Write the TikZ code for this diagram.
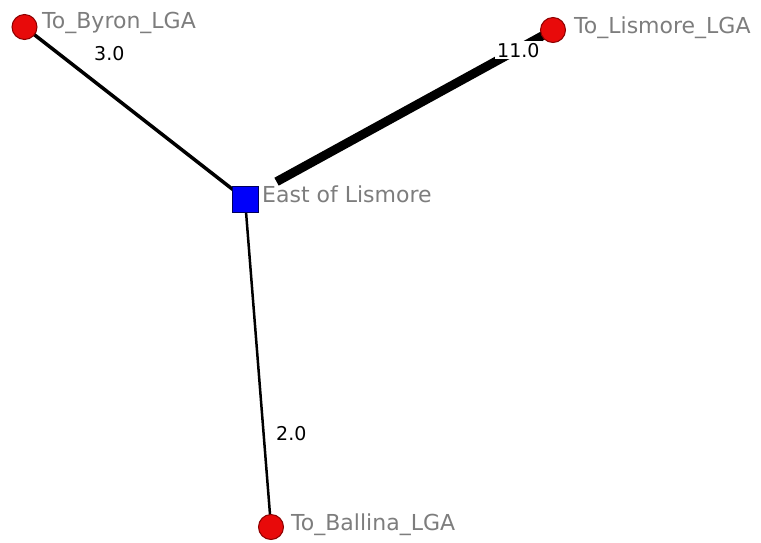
\documentclass[tikz,border=0pt]{standalone}
\usepackage{fontspec}
\setmainfont{DejaVu Sans}
\definecolor{nodered}{RGB}{232,10,10}
\definecolor{nodereddark}{RGB}{140,0,0}
\definecolor{nodeblue}{RGB}{0,0,250}
\definecolor{nodebluedark}{RGB}{0,0,90}
\definecolor{namegray}{RGB}{125,125,125}
\tikzset{
  place/.style={circle,fill=nodered,draw=nodereddark,line width=1pt,minimum size=25pt,inner sep=0pt},
  hub/.style={rectangle,fill=nodeblue,draw=nodebluedark,line width=1pt,minimum width=26pt,minimum height=26pt,inner sep=0pt},
  namelabel/.style={anchor=base west,inner sep=0pt,text=namegray,font=\fontsize{22}{24}\selectfont},
  weightlabel/.style={anchor=base west,inner sep=0pt,text=black,font=\fontsize{19}{21}\selectfont},
  link/.style={draw=black}
}
\begin{document}
\begin{tikzpicture}[x=1pt,y=-1pt]
\useasboundingbox (0,0) rectangle (761,542);
% node positions
\coordinate (cE) at (245,199);
\coordinate (cB) at (24.5,27);
\coordinate (cL) at (553,30);
\coordinate (cA) at (271,527);
% edges
\draw[link,line width=3.5pt] (cE) -- (cB);
\draw[link,line width=2.5pt] (cE) -- (cA);
\draw[link,line width=9pt,shorten <=36pt] (cE) -- (cL);
% weight labels
\node[weightlabel] (w3) at (94,60) {3.0};
\node[weightlabel,fill=white,inner sep=2pt] (w11) at (495,57) {11.0};
\node[weightlabel] (w2) at (276,440) {2.0};
% nodes
\node[hub] (east) at (cE) {};
\node[place] (byron) at (cB) {};
\node[place] (lismore) at (cL) {};
\node[place] (ballina) at (cA) {};
% names
\node[namelabel] (nB) at (42,28) {To\_Byron\_LGA};
\node[namelabel] (nL) at (574,33) {To\_Lismore\_LGA};
\node[namelabel] (nE) at (262,202) {East of Lismore};
\node[namelabel] (nA) at (291,530) {To\_Ballina\_LGA};
\end{tikzpicture}
\end{document}
